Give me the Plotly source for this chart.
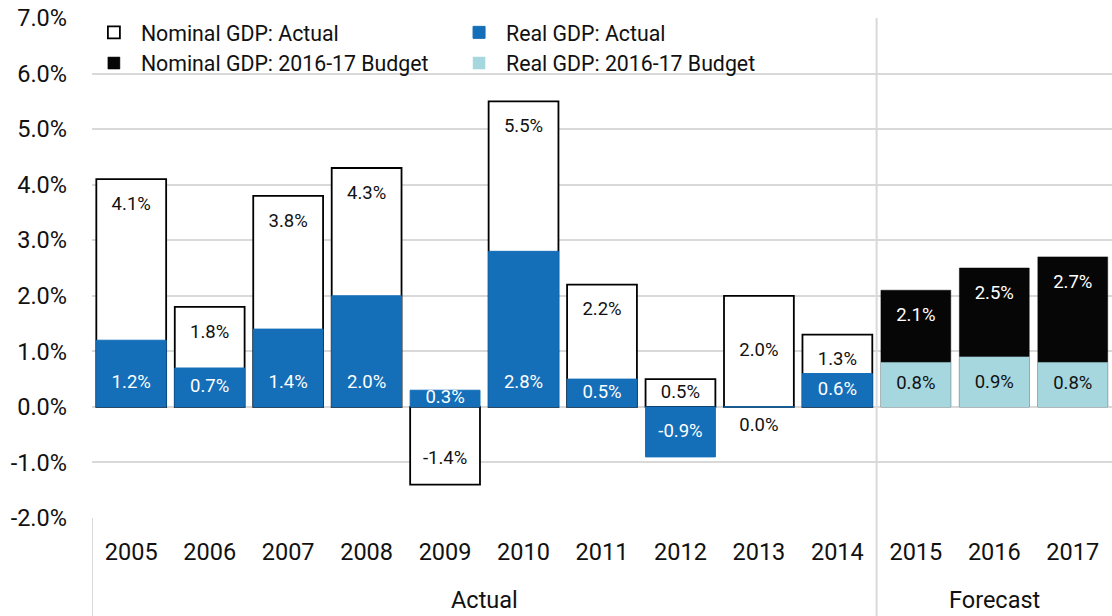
import plotly.graph_objects as go

# Growth rates, per cent
years = ["2005", "2006", "2007", "2008", "2009", "2010", "2011",
         "2012", "2013", "2014", "2015", "2016", "2017"]
actual_years = years[:10]
budget_years = years[10:]

nominal_actual = [4.1, 1.8, 3.8, 4.3, -1.4, 5.5, 2.2, 0.5, 2.0, 1.3]
real_actual = [1.2, 0.7, 1.4, 2.0, 0.3, 2.8, 0.5, -0.9, 0.0, 0.6]
nominal_budget = [2.1, 2.5, 2.7]
real_budget = [0.8, 0.9, 0.8]

group_labels = ["Actual", "Forecast"]
y_ticks = [-2, -1, 0, 1, 2, 3, 4, 5, 6, 7]
y_tick_text = [f"{v:.1f}%" for v in y_ticks]

FONT = "Roboto"
INK = "#111111"
BLUE = "#146EB8"
LIGHT_BLUE = "#A6D7DE"
GRID = "#D9D9D9"


def fmt(v):
    return f"{v:.1f}%"


def end_label_y(v, inner):
    # nominal label: near the top of the bar, or centred when the real bar
    # does not rise above zero
    if v > 0:
        if inner <= 0:
            return v / 2
        return max(v - 0.47, v / 2)
    return min(v + 0.45, -0.35)


def base_label_y(v, _inner=None):
    # real label: just inside the base of the bar
    if v > 0:
        return min(0.42, v / 2)
    return min(v + 0.45, -0.35)


fig = go.Figure()

fig.add_trace(go.Bar(
    x=actual_years, y=nominal_actual, name="Nominal GDP: Actual",
    marker=dict(color="white", line=dict(color="#000000", width=1.8)),
    legend="legend",
))
fig.add_trace(go.Bar(
    x=budget_years, y=nominal_budget, name="Nominal GDP: 2016-17 Budget",
    marker=dict(color="#060606", line=dict(color="#060606", width=0.5)),
    legend="legend",
))
fig.add_trace(go.Bar(
    x=actual_years, y=real_actual, name="Real GDP: Actual",
    marker=dict(color=BLUE, line=dict(color=BLUE, width=1)),
    legend="legend2",
))
fig.add_trace(go.Bar(
    x=budget_years, y=real_budget, name="Real GDP: 2016-17 Budget",
    marker=dict(color=LIGHT_BLUE, line=dict(color=LIGHT_BLUE, width=0.5)),
    legend="legend2",
))

# value labels
label_sets = [
    (actual_years, nominal_actual, real_actual, end_label_y, lambda v: INK),
    (budget_years, nominal_budget, real_budget, end_label_y, lambda v: "white"),
    (actual_years, real_actual, real_actual, base_label_y,
     lambda v: "white" if v != 0 else INK),
    (budget_years, real_budget, real_budget, base_label_y, lambda v: INK),
]
for xs, vals, inner, pos, col in label_sets:
    fig.add_trace(go.Scatter(
        x=xs, y=[pos(v, r) for v, r in zip(vals, inner)], mode="text",
        text=[fmt(v) for v in vals],
        textfont=dict(family=FONT, size=18.5, color=[col(v) for v in vals]),
        showlegend=False, hoverinfo="skip",
    ))

# group labels under the year labels
fig.add_annotation(x=4.5, xref="x", y=-0.196, yref="paper", yanchor="bottom",
                   text=group_labels[0], showarrow=False,
                   font=dict(family=FONT, size=23.5, color=INK))
fig.add_annotation(x=11, xref="x", y=-0.196, yref="paper", yanchor="bottom",
                   text=group_labels[1], showarrow=False,
                   font=dict(family=FONT, size=23.5, color=INK))

# dividers between groups
fig.add_shape(type="line", xref="x", yref="paper", x0=9.5, x1=9.5, y0=-0.2, y1=1,
              line=dict(color=GRID, width=2))
fig.add_shape(type="line", xref="x", yref="paper", x0=-0.5, x1=-0.5, y0=-0.2, y1=0,
              line=dict(color=GRID, width=2))

legend_style = dict(
    orientation="v", y=1.012, xanchor="left", yanchor="top", itemwidth=44,
    font=dict(family=FONT, size=21.3, color=INK),
    bgcolor="rgba(0,0,0,0)", tracegroupgap=0, traceorder="normal",
)

fig.update_layout(
    width=1112, height=616,
    margin=dict(l=92, r=0, t=18, b=98),
    barmode="overlay", bargap=0.11,
    plot_bgcolor="white", paper_bgcolor="white",
    font=dict(family=FONT, size=23.5, color=INK),
    legend=dict(x=-0.005, **legend_style),
    legend2=dict(x=0.353, **legend_style),
    xaxis=dict(
        type="category", categoryorder="array", categoryarray=years,
        range=[-0.5, 12.5], showgrid=False, showline=False, zeroline=False,
        ticks="", ticklabelstandoff=17,
        tickfont=dict(family=FONT, size=23.5, color=INK),
    ),
    yaxis=dict(
        range=[-2, 7], tickvals=y_ticks, ticktext=y_tick_text,
        showgrid=True, gridcolor=GRID, gridwidth=1.5,
        zeroline=True, zerolinecolor=GRID, zerolinewidth=1.5,
        showline=False, ticks="", ticklabelstandoff=24,
        tickfont=dict(family=FONT, size=23.5, color=INK),
    ),
    showlegend=True,
)

fig.write_html("out.html")
